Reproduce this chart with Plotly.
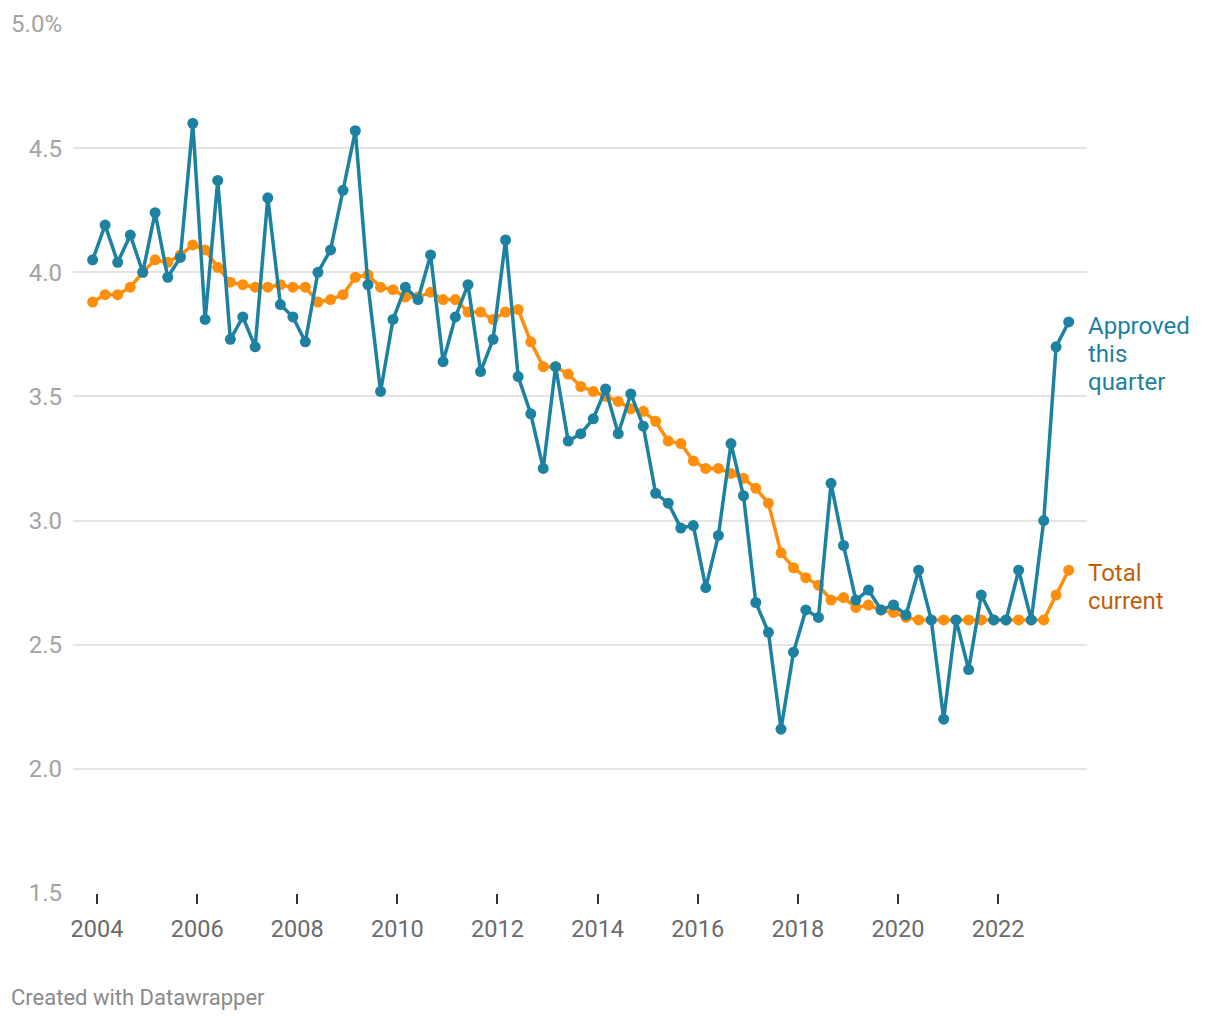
import pandas as pd
import plotly.graph_objects as go

# Quarters: 2003 Q4 .. 2023 Q2 (79 quarters)
quarters = [str(p) for p in pd.period_range("2003Q4", "2023Q2", freq="Q")]

approved_this_quarter = [
    4.05, 4.19, 4.04, 4.15, 4.00, 4.24, 3.98, 4.06, 4.60, 3.81,
    4.37, 3.73, 3.82, 3.70, 4.30, 3.87, 3.82, 3.72, 4.00, 4.09,
    4.33, 4.57, 3.95, 3.52, 3.81, 3.94, 3.89, 4.07, 3.64, 3.82,
    3.95, 3.60, 3.73, 4.13, 3.58, 3.43, 3.21, 3.62, 3.32, 3.35,
    3.41, 3.53, 3.35, 3.51, 3.38, 3.11, 3.07, 2.97, 2.98, 2.73,
    2.94, 3.31, 3.10, 2.67, 2.55, 2.16, 2.47, 2.64, 2.61, 3.15,
    2.90, 2.68, 2.72, 2.64, 2.66, 2.62, 2.80, 2.60, 2.20, 2.60,
    2.40, 2.70, 2.60, 2.60, 2.80, 2.60, 3.00, 3.70, 3.80,
]

total_current = [
    3.88, 3.91, 3.91, 3.94, 4.00, 4.05, 4.04, 4.07, 4.11, 4.09,
    4.02, 3.96, 3.95, 3.94, 3.94, 3.95, 3.94, 3.94, 3.88, 3.89,
    3.91, 3.98, 3.99, 3.94, 3.93, 3.90, 3.90, 3.92, 3.89, 3.89,
    3.84, 3.84, 3.81, 3.84, 3.85, 3.72, 3.62, 3.62, 3.59, 3.54,
    3.52, 3.50, 3.48, 3.45, 3.44, 3.40, 3.32, 3.31, 3.24, 3.21,
    3.21, 3.19, 3.17, 3.13, 3.07, 2.87, 2.81, 2.77, 2.74, 2.68,
    2.69, 2.65, 2.66, 2.64, 2.63, 2.61, 2.60, 2.60, 2.60, 2.60,
    2.60, 2.60, 2.60, 2.60, 2.60, 2.60, 2.60, 2.70, 2.80,
]

y_tick_values = [1.5, 2.0, 2.5, 3.0, 3.5, 4.0, 4.5, 5.0]
y_tick_labels = ["1.5", "2.0", "2.5", "3.0", "3.5", "4.0", "4.5", "5.0%"]
x_tick_years = list(range(2004, 2023, 2))

approved_label_lines = ["Approved", "this", "quarter"]
total_label_lines = ["Total", "current"]

# place each quarter near the end of its middle month
dates = [(pd.Period(q, freq="Q").start_time + pd.DateOffset(months=2) - pd.Timedelta(days=1))
         for q in quarters]

BLUE = "#1d81a2"
ORANGE = "#fe8e0b"
ORANGE_TEXT = "#c15f0a"
FONT = "Roboto"


def frac_year(y):
    year = int(y)
    start = pd.Timestamp(year=year, month=1, day=1)
    end = pd.Timestamp(year=year + 1, month=1, day=1)
    return (start + (end - start) * (y - year)).strftime("%Y-%m-%d %H:%M:%S")


fig = go.Figure()
fig.add_trace(go.Scatter(
    x=dates, y=total_current, mode="lines+markers", name="Total current",
    line=dict(color=ORANGE, width=3.5), marker=dict(color=ORANGE, size=11),
    hoverinfo="skip",
))
fig.add_trace(go.Scatter(
    x=dates, y=approved_this_quarter, mode="lines+markers", name="Approved this quarter",
    line=dict(color=BLUE, width=3.5), marker=dict(color=BLUE, size=11),
    hoverinfo="skip",
))

fig.update_layout(
    width=1220, height=1020,
    margin=dict(l=65, r=141, t=16, b=135),
    paper_bgcolor="white", plot_bgcolor="white",
    showlegend=False,
    font=dict(family=FONT, size=22),
    xaxis=dict(
        type="date",
        range=[frac_year(2003.52), frac_year(2023.777)],
        tickvals=[f"{y}-01-01" for y in x_tick_years],
        ticktext=[str(y) for y in x_tick_years],
        ticks="outside", ticklen=10, tickwidth=2, tickcolor="#333333",
        tickfont=dict(family=FONT, size=23.5, color="#6b6b6b"),
        showgrid=False, showline=False, zeroline=False,
        ticklabelstandoff=5, automargin=False,
    ),
    yaxis=dict(
        range=[1.5, 5.0],
        tickvals=y_tick_values, ticktext=y_tick_labels,
        tickfont=dict(family=FONT, size=24, color="#a3a3a3"),
        showgrid=True, gridcolor="#e4e4e4", gridwidth=2,
        zeroline=False, showline=False, ticks="",
        ticklabelstandoff=10, automargin=False,
    ),
)

# label lines placed with 28px line spacing (1 px = 3.5/869 data units)
px = 3.5 / 869.0
for k, line in enumerate(approved_label_lines):
    fig.add_annotation(
        xref="paper", yref="y", x=1.0, y=3.671 + (1 - k) * 28 * px,
        xanchor="left", yanchor="middle", xshift=-1,
        text=line, showarrow=False, align="left",
        font=dict(family=FONT, size=24, color=BLUE),
    )
for k, line in enumerate(total_label_lines):
    fig.add_annotation(
        xref="paper", yref="y", x=1.0, y=2.733 + (0.5 - k) * 28 * px,
        xanchor="left", yanchor="middle", xshift=-1,
        text=line, showarrow=False, align="left",
        font=dict(family=FONT, size=24, color=ORANGE_TEXT),
    )
fig.add_annotation(
    xref="paper", yref="paper", x=-0.0631, y=-0.1197, xanchor="left", yanchor="middle",
    text="Created with Datawrapper", showarrow=False, align="left",
    font=dict(family=FONT, size=22, color="#8a8a8a"),
)

fig.write_html("out.html")
